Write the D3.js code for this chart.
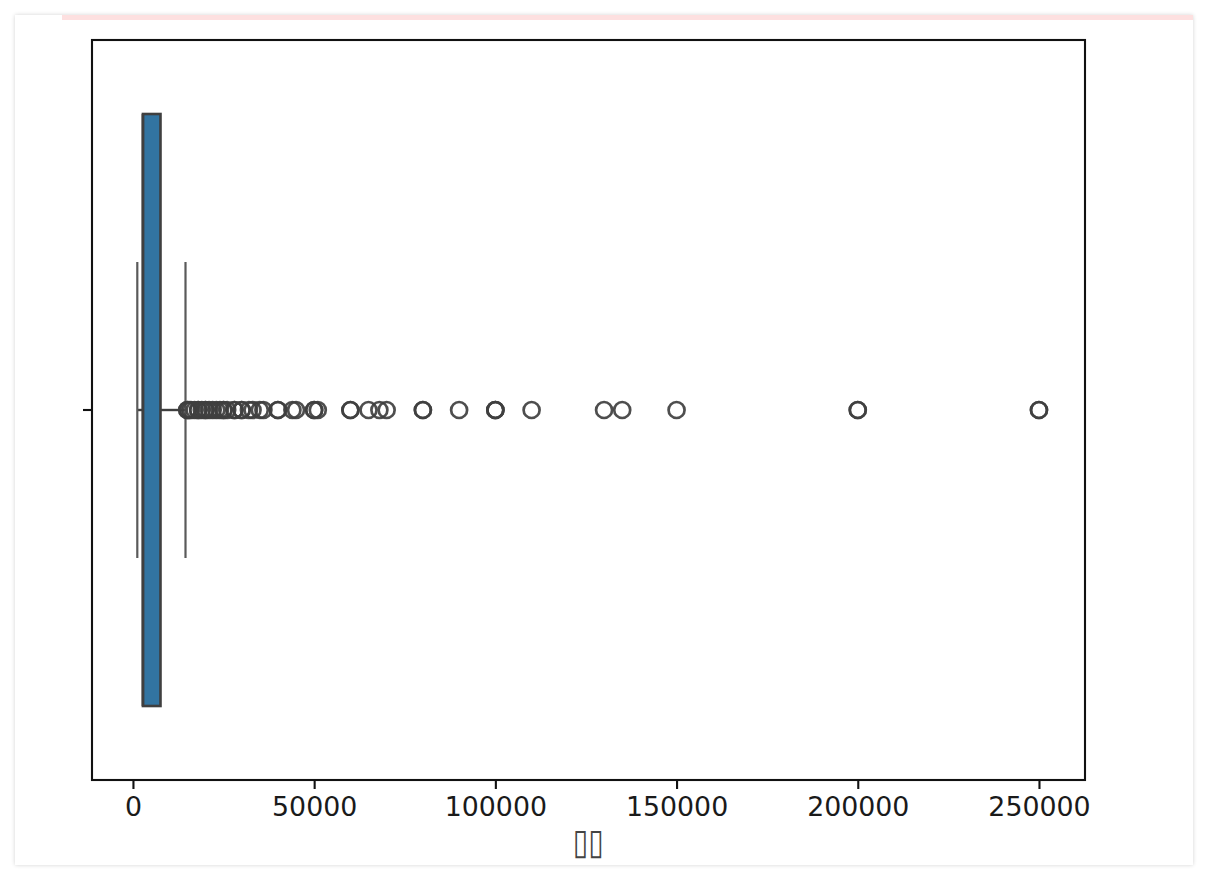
<!DOCTYPE html>
<html>
<head>
<meta charset="utf-8">
<script src="https://cdn.jsdelivr.net/npm/d3@7"></script>
<style>
  html, body { margin: 0; padding: 0; background: #ffffff; }
  .panel {
    position: absolute; left: 15px; top: 15px; width: 1178px; height: 850px;
    background: #fff; overflow: hidden;
    box-shadow: 0 0 4px rgba(0,0,0,0.18);
  }
  .strip { position: absolute; left: 47px; top: 0; width: 1131px; height: 5px; background: #fde0e0; }
  svg text { font-family: "DejaVu Sans", sans-serif; }
</style>
</head>
<body>
<div class="panel">
  <div class="strip"></div>
  <svg id="chart" width="1178" height="850"></svg>
</div>
<script>
// box summary: whisker low, q1, median, q3, whisker high
const statNames = ['whiskerLow', 'q1', 'median', 'q3', 'whiskerHigh'];
const statValues = [1200, 2750, 2750, 7600, 14500];

// outliers beyond the upper whisker (duplicates stack)
const outliers = [
  15000, 15000, 15500, 16000, 17000, 18000, 18000, 19000, 20000, 20000,
  21000, 22000, 23000, 24000, 25000, 25000, 26000, 28000, 28000, 30000,
  30000, 32000, 33000, 35000, 36000, 40000, 40000, 44000, 45000, 50000,
  50000, 51000, 60000, 60000, 65000, 68000, 70000, 80000, 80000, 90000,
  100000, 100000, 100000, 110000, 130000, 135000, 150000, 200000, 200000,
  250000, 250000
];

const xTicks = [0, 50000, 100000, 150000, 200000, 250000];
const category = [''];
const xTitle = '▯▯';

const stats = {};
statNames.forEach((n, i) => { stats[n] = statValues[i]; });

const svg = d3.select('#chart');
const ox = -15, oy = -15; // panel offset vs page
const margin = { left: 92 + ox, top: 40 + oy, right: 1085 + ox, bottom: 780 + oy };
const drawWidth = margin.right - margin.left;
const drawHeight = margin.bottom - margin.top;

const xScale = d3.scaleLinear().domain([-11300, 262700]).range([0, drawWidth]);
const yScale = d3.scaleBand().domain(category).range([0, drawHeight]).paddingInner(0).paddingOuter(0);

const g = svg.append('g').attr('transform', `translate(${margin.left},${margin.top})`);

const cy = yScale('') + yScale.bandwidth() / 2;
const boxH = yScale.bandwidth() * 0.8;
const capH = yScale.bandwidth() * 0.4;
const lineColor = '#3f3f3f';

// whiskers
g.append('line')
  .attr('x1', xScale(stats.whiskerLow)).attr('x2', xScale(stats.q1))
  .attr('y1', cy).attr('y2', cy)
  .attr('stroke', lineColor).attr('stroke-width', 2.4);
g.append('line')
  .attr('x1', xScale(stats.q3)).attr('x2', xScale(stats.whiskerHigh))
  .attr('y1', cy).attr('y2', cy)
  .attr('stroke', lineColor).attr('stroke-width', 2.4);

// caps
g.selectAll('line.cap')
  .data([stats.whiskerLow, stats.whiskerHigh])
  .enter().append('line')
  .attr('class', 'cap')
  .attr('x1', d => xScale(d)).attr('x2', d => xScale(d))
  .attr('y1', cy - capH / 2).attr('y2', cy + capH / 2)
  .attr('stroke', '#5a5a5a').attr('stroke-width', 2.2);

// box
g.append('rect')
  .attr('x', xScale(stats.q1))
  .attr('y', cy - boxH / 2)
  .attr('width', xScale(stats.q3) - xScale(stats.q1))
  .attr('height', boxH)
  .attr('fill', '#3274a1')
  .attr('stroke', lineColor)
  .attr('stroke-width', 2.6);

// median
g.append('line')
  .attr('x1', xScale(stats.median)).attr('x2', xScale(stats.median))
  .attr('y1', cy - boxH / 2).attr('y2', cy + boxH / 2)
  .attr('stroke', lineColor).attr('stroke-width', 2.6);

// fliers
g.selectAll('circle')
  .data(outliers)
  .enter().append('circle')
  .attr('cx', d => xScale(d))
  .attr('cy', cy)
  .attr('r', 8)
  .attr('fill', 'none')
  .attr('stroke', lineColor)
  .attr('stroke-opacity', 0.92)
  .attr('stroke-width', 2.7);

// frame
g.append('rect')
  .attr('x', 0).attr('y', 0)
  .attr('width', drawWidth).attr('height', drawHeight)
  .attr('fill', 'none').attr('stroke', '#111').attr('stroke-width', 2.1);

// axes
const xAxis = d3.axisBottom(xScale).tickValues(xTicks).tickFormat(d3.format('d'))
  .tickSize(9).tickPadding(8);
const xg = g.append('g').attr('transform', `translate(0,${drawHeight})`).call(xAxis);
xg.select('.domain').remove();
xg.selectAll('line').attr('stroke', '#111').attr('stroke-width', 2.1);
xg.selectAll('text').attr('fill', '#1a1a1a').style('font-size', '26.8px')
  .style('font-family', '"DejaVu Sans", sans-serif');

const yAxis = d3.axisLeft(yScale).tickSize(9).tickFormat('');
const yg = g.append('g').call(yAxis);
yg.select('.domain').remove();
yg.selectAll('line').attr('stroke', '#111').attr('stroke-width', 2.1);

// x title (tofu-like boxes as in the reference)
svg.append('text')
  .attr('x', margin.left + drawWidth / 2)
  .attr('y', margin.bottom + 74)
  .attr('text-anchor', 'middle')
  .attr('fill', '#444')
  .attr('textLength', 31)
  .attr('lengthAdjust', 'spacingAndGlyphs')
  .style('font-size', '36px')
  .text(xTitle);
</script>
</body>
</html>
